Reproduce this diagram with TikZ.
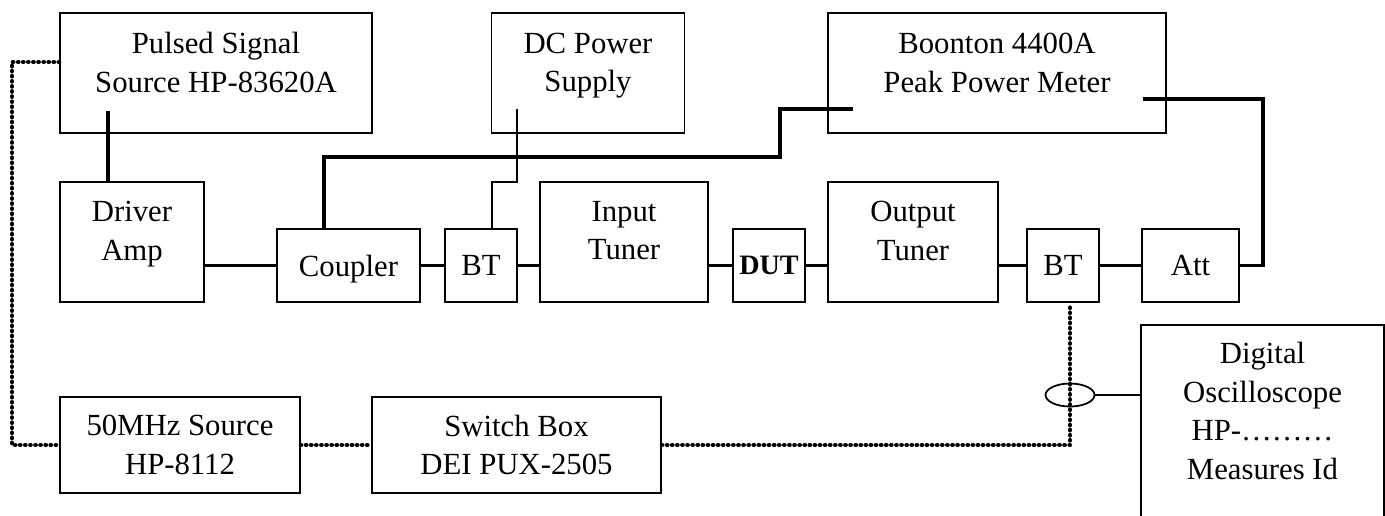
\documentclass[tikz,border=0pt]{standalone}
\usepackage{fontspec}
\setmainfont{Liberation Serif}
\usetikzlibrary{shapes.geometric}

\begin{document}
\begin{tikzpicture}[x=0.02cm,y=-0.02cm,
  box/.style={draw,line width=1pt,align=center,inner sep=0pt,font=\fontsize{17.5}{22}\selectfont},
  sz/.style 2 args={minimum width=#1*0.02cm,minimum height=#2*0.02cm},
  wire/.style={line width=2pt},
  thinwire/.style={line width=0.9pt},
  dots/.style={line width=2.5pt,line cap=round,dash pattern=on 0.2pt off 2.7pt}]
\useasboundingbox (0,0) rectangle (1385,515);

% instruments on top
\node[box,sz={312}{120},text depth=12pt] (pulsed) at (216,73) {Pulsed Signal\\Source HP-83620A};
\node[box,sz={193}{120},text depth=12pt] (dc) at (588,73) {DC Power\\Supply};
\node[box,sz={338}{120},text depth=12pt] (pm) at (997,73) {Boonton 4400A\\Peak Power Meter};

% rf chain
\node[box,sz={144}{120},text depth=13pt] (drv) at (132,242) {Driver\\Amp};
\node[box,sz={143}{73},text depth=0pt] (cpl) at (348.5,265.5) {Coupler};
\node[box,sz={72}{73}] (bt1) at (481,265.5) {BT};
\node[box,sz={168}{120},text depth=13pt] (tin) at (624,242) {Input\\Tuner};
\node[box,sz={72}{73},font=\fontsize{16}{18}\selectfont\bfseries] (dut) at (769,265.5) {DUT};
\node[box,sz={170}{120},text depth=13pt] (tout) at (913,242) {Output\\Tuner};
\node[box,sz={72}{73}] (bt2) at (1063,265.5) {BT};
\node[box,sz={97}{73}] (att) at (1190.5,265.5) {Att};

% bottom row
\node[box,sz={240}{96}] (src) at (180,445) {50MHz Source\\HP-8112};
\node[box,sz={289}{96}] (swb) at (516.5,445) {Switch Box\\DEI PUX-2505};
\node[box,draw=none,sz={241}{189},text depth=11pt] (osc) at (1262.5,420.5) {Digital\\Oscilloscope\\HP-………\\Measures Id};
\draw[line width=1pt] (osc.south west) |- (osc.north east) -- (osc.south east);
\node[draw,ellipse,line width=1pt,minimum width=49*0.02cm,minimum height=23*0.02cm] (probe) at (1070,395) {};

\draw[wire] (drv.east |- cpl.west) -- (cpl.west);
\draw[wire] (cpl.east) -- (bt1.west);
\draw[wire] (bt1.east) -- (tin.west |- bt1.east);
\draw[wire] (tin.east |- dut.west) -- (dut.west);
\draw[wire] (dut.east) -- (tout.west |- dut.east);
\draw[wire] (tout.east |- bt2.west) -- (bt2.west);
\draw[wire] (bt2.east) -- (att.west);

\coordinate (p1) at (108,111);
\draw[wire] (p1) -- (p1 |- drv.north);

\coordinate (c1) at (324,157);
\coordinate (pml) at (853,109);
\draw[wire] (c1 |- cpl.north) -- (c1) -| (780,109) -- (pml);

\coordinate (pmr) at (1143,99);
\draw[wire] (pmr) -- ++(120,0) |- (att.east);

\coordinate (dc1) at (517,109);
\coordinate (dc2) at (492,182);
\draw[thinwire] (dc1) |- (dc2) -- (dc2 |- bt1.north);

% pulse / trigger lines
\coordinate (d0) at (12,62);
\draw[dots] (d0 -| pulsed.west) -- (d0) |- (src.west);
\draw[dots] (src.east) -- (swb.west);
\draw[dots] (swb.east) -| (probe |- bt2.south);

\draw[thinwire] (probe.east) -- (osc.west |- probe.east);
\end{tikzpicture}
\end{document}
